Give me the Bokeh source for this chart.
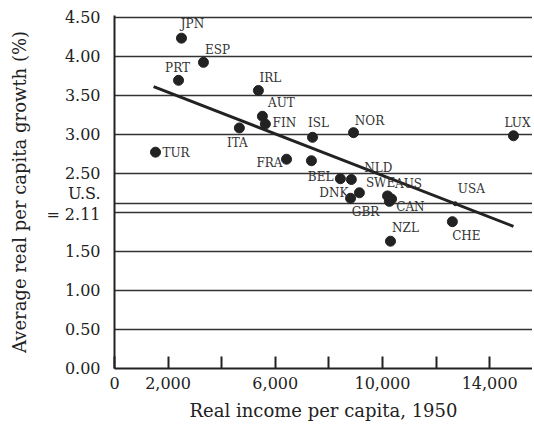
from bokeh.plotting import figure
from bokeh.models import ColumnDataSource, FixedTicker, CustomJSTickFormatter
from bokeh.core.properties import value
from bokeh.embed import file_html
from bokeh.resources import INLINE

# ---------------- data ----------------
countries = ["JPN", "ESP", "PRT", "IRL", "AUT", "FIN", "ITA", "ISL", "NOR", "LUX",
             "TUR", "FRA", "", "BEL", "NLD", "DNK", "GBR", "SWE", "AUS", "CAN",
             "USA", "CHE", "NZL"]
income_1950 = [2500, 3320, 2390, 5370, 5520, 5630, 4660, 7390, 8920, 14890,
               1530, 6420, 7350, 8430, 8840, 9140, 8810, 10190, 10340, 10260,
               12720, 12610, 10300]
growth_pct = [4.23, 3.92, 3.69, 3.56, 3.23, 3.13, 3.08, 2.96, 3.02, 2.98,
              2.77, 2.68, 2.66, 2.43, 2.42, 2.25, 2.18, 2.21, 2.17, 2.14,
              2.11, 1.88, 1.63]
trend_income = [1460, 14890]
trend_growth = [3.61, 1.82]

x_ticks = [0, 2000, 4000, 6000, 8000, 10000, 12000, 14000]
x_tick_labels = ["0", "2,000", "", "6,000", "", "10,000", "", "14,000"]
y_ticks = [0.0, 0.5, 1.0, 1.5, 2.0, 2.11, 2.5, 3.0, 3.5, 4.0, 4.5]
y_tick_labels = ["0.00", "0.50", "1.00", "1.50", "", "U.S.\n= 2.11",
                 "2.50", "3.00", "3.50", "4.00", "4.50"]
x_title = "Real income per capita, 1950"
y_title = "Average real per capita growth (%)"

# ---------------- label placement (layout only) ----------------
label_dx = [11, 14, -1, 12, 19, 19, -2, 6, 16, 17,
            7, -4, 0, -7, 27, -11, 15, -7, 17, 21,
            16, 14, 15]
label_dy = [-14, -12, -12, -12, -13, -1, 15, -14, -12, -13,
            1, 4, 0, -2, -12, 0, 14, -13, -15, 6,
            -15, 14, -13]
label_align = (["center"] * 9 + ["right", "left", "right", "center", "right", "center", "right"]
               + ["center"] * 7)
dot_size = [10] * 20 + [4, 10, 10]

FONT = "DejaVu Serif"
INK = "#222222"

src = ColumnDataSource(dict(x=income_1950, y=growth_pct, name=countries,
                            dx=label_dx, dy=label_dy, align=label_align, size=dot_size))

p = figure(width=532, height=425, x_range=(0, 15600), y_range=(0, 4.52),
           output_backend="svg", toolbar_location=None,
           min_border_left=114, min_border_top=15, min_border_right=0, min_border_bottom=57)
p.outline_line_color = None
p.background_fill_color = "white"
p.border_fill_color = "white"

FMT_CODE = "const i = tv.findIndex(t => Math.abs(t - tick) < 1e-6); return i >= 0 ? tl[i] : '';"

# axes
p.xaxis.ticker = FixedTicker(ticks=x_ticks)
p.xaxis.formatter = CustomJSTickFormatter(args=dict(tv=x_ticks, tl=x_tick_labels), code=FMT_CODE)
p.yaxis.ticker = FixedTicker(ticks=y_ticks)
p.yaxis.formatter = CustomJSTickFormatter(args=dict(tv=y_ticks, tl=y_tick_labels), code=FMT_CODE)

for ax in (p.xaxis[0], p.yaxis[0]):
    ax.axis_line_color = INK
    ax.axis_line_width = 2
    ax.major_label_text_font = FONT
    ax.major_label_text_font_size = "16px"
    ax.major_label_text_color = INK
    ax.axis_label_text_font = FONT
    ax.axis_label_text_font_size = "18px"
    ax.axis_label_text_font_style = "normal"
    ax.axis_label_text_color = INK
    ax.minor_tick_line_color = None

p.xaxis.axis_label = x_title
p.yaxis.axis_label = y_title
p.xaxis.major_tick_in = 12
p.xaxis.major_tick_out = 0
p.xaxis.major_tick_line_width = 2
p.xaxis.major_tick_line_color = INK
p.xaxis.major_label_standoff = 8
p.xaxis.axis_label_standoff = 8
p.yaxis.major_tick_in = 0
p.yaxis.major_tick_out = 0
p.yaxis.major_label_standoff = 14
p.yaxis.axis_label_standoff = 13
p.yaxis.major_label_text_line_height = 1.1

p.xgrid.visible = False
p.ygrid.grid_line_color = "#333333"
p.ygrid.grid_line_width = 1.4

# trend line
p.line(trend_income, trend_growth, line_color=INK, line_width=3)

# points
p.scatter("x", "y", source=src, size="size", fill_color=INK, line_color=INK)

# country labels
p.text("x", "y", text="name", source=src, x_offset="dx", y_offset="dy",
       text_align="align", text_baseline="middle",
       text_font=value(FONT), text_font_size="12px", text_color="#333333")

open("out.html", "w").write(file_html(p, INLINE))
